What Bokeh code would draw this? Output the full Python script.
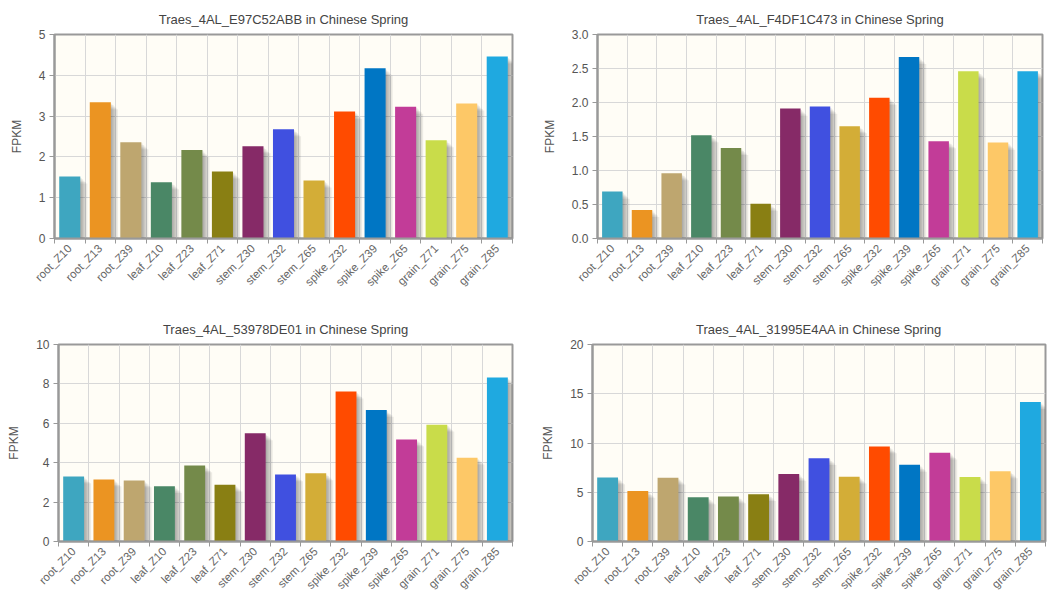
import math
from bokeh.plotting import figure
from bokeh.layouts import column, row
from bokeh.models import ColumnDataSource, FixedTicker, Range1d, NumeralTickFormatter
from bokeh.embed import file_html
from bokeh.resources import INLINE

categories = ["root_Z10", "root_Z13", "root_Z39", "leaf_Z10", "leaf_Z23", "leaf_Z71",
              "stem_Z30", "stem_Z32", "stem_Z65", "spike_Z32", "spike_Z39", "spike_Z65",
              "grain_Z71", "grain_Z75", "grain_Z85"]
colors = ["#3ea6c0", "#eb9422", "#bea66f", "#4a8766", "#748a4a", "#897f13",
          "#862a67", "#4050e0", "#d3ad37", "#ff4b00", "#0076c4", "#c23c98",
          "#c9dc4a", "#fdc867", "#1fa9e0"]

titles = ["Traes_4AL_E97C52ABB in Chinese Spring",
          "Traes_4AL_F4DF1C473 in Chinese Spring",
          "Traes_4AL_53978DE01 in Chinese Spring",
          "Traes_4AL_31995E4AA in Chinese Spring"]

fpkm_e97c52abb = [1.52, 3.34, 2.36, 1.38, 2.17, 1.64, 2.26, 2.68, 1.42, 3.11, 4.17, 3.23, 2.41, 3.31, 4.46]
fpkm_f4df1c473 = [0.69, 0.42, 0.96, 1.52, 1.33, 0.51, 1.91, 1.94, 1.65, 2.07, 2.67, 1.43, 2.46, 1.41, 2.46]
fpkm_53978de01 = [3.30, 3.15, 3.10, 2.81, 3.86, 2.88, 5.49, 3.40, 3.46, 7.61, 6.68, 5.18, 5.93, 4.25, 8.32]
fpkm_31995e4aa = [6.50, 5.13, 6.47, 4.48, 4.58, 4.80, 6.86, 8.46, 6.57, 9.64, 7.78, 9.02, 6.54, 7.12, 14.15]

y_max = [5, 3, 10, 20]
y_ticks = [[0, 1, 2, 3, 4, 5],
           [0, 0.5, 1.0, 1.5, 2.0, 2.5, 3.0],
           [0, 2, 4, 6, 8, 10],
           [0, 5, 10, 15, 20]]
y_formats = ["0", "0.0", "0", "0"]

# layout: width, height, left, right, top, bottom
layouts = [(530, 300, 54, 18, 34, 61),
           (529, 300, 67, 17, 34, 62),
           (530, 298, 58, 18, 42, 52),
           (529, 298, 62, 14, 44, 50)]

FONT = "Liberation Sans"


def make_panel(title, vals, ymax, yt, yfmt, lay):
    w, h, l, r, t, b = lay
    n = len(categories)
    fw = w - l - r
    fh = h - t - b
    xs = list(range(n))
    p = figure(width=w, height=h, x_range=Range1d(-0.5, n - 0.5), y_range=Range1d(0, ymax),
               output_backend="svg", toolbar_location=None, title=title,
               min_border_left=l, min_border_right=r, min_border_top=t, min_border_bottom=b)
    p.background_fill_color = "#fffdf6"
    p.border_fill_color = "white"
    p.outline_line_color = "#999999"
    p.outline_line_width = 2

    p.title.align = "center"
    p.title.text_font = FONT
    p.title.text_font_size = "13px"
    p.title.text_font_style = "normal"
    p.title.text_color = "#444444"
    p.title.standoff = 15

    # shadows
    px_x = fw / n
    px_y = fh / ymax
    for j in range(5):
        off = (j + 1) * 1.41
        src = ColumnDataSource(dict(x=[x + off / px_x for x in xs],
                                    top=[max(v - off / px_y, 0) for v in vals]))
        p.vbar(x="x", top="top", bottom=0, width=0.69, source=src,
               fill_color="black", fill_alpha=0.07, line_color=None)

    src = ColumnDataSource(dict(x=xs, top=vals, color=colors))
    p.vbar(x="x", top="top", bottom=0, width=0.69, source=src,
           fill_color="color", line_color=None)

    # x axis
    xax = p.xaxis[0]
    xax.ticker = FixedTicker(ticks=xs, minor_ticks=[x - 0.5 for x in range(n + 1)])
    xax.major_label_overrides = {x: c for x, c in zip(xs, categories)}
    xax.major_label_orientation = math.pi / 4
    xax.major_label_text_font = FONT
    xax.major_label_text_font_size = "11.5px"
    xax.major_label_text_color = "#666666"
    xax.major_label_standoff = 3
    xax.major_tick_out = 0
    xax.major_tick_in = 0
    xax.minor_tick_out = 5
    xax.minor_tick_in = 0
    xax.minor_tick_line_color = "#999999"
    xax.axis_line_color = "#999999"
    xax.axis_line_width = 2

    # y axis
    yax = p.yaxis[0]
    yax.ticker = FixedTicker(ticks=yt)
    yax.formatter = NumeralTickFormatter(format=yfmt)
    yax.axis_label = "FPKM"
    yax.axis_label_text_font = FONT
    yax.axis_label_text_font_size = "12px"
    yax.axis_label_text_font_style = "normal"
    yax.axis_label_text_color = "#555555"
    yax.axis_label_standoff = 12
    yax.major_label_text_font = FONT
    yax.major_label_text_font_size = "12px"
    yax.major_label_text_color = "#555555"
    yax.major_label_standoff = 4
    yax.major_tick_out = 5
    yax.major_tick_in = 0
    yax.minor_tick_out = 0
    yax.minor_tick_in = 0
    yax.major_tick_line_color = "#999999"
    yax.axis_line_color = "#999999"
    yax.axis_line_width = 2

    p.xgrid.grid_line_color = None
    p.xgrid.minor_grid_line_color = "#d8d8d8"
    p.ygrid.grid_line_color = "#d8d8d8"
    return p


series = [fpkm_e97c52abb, fpkm_f4df1c473, fpkm_53978de01, fpkm_31995e4aa]
panels = [make_panel(titles[i], series[i], y_max[i], y_ticks[i], y_formats[i], layouts[i])
          for i in range(4)]

layout = column(row(panels[0], panels[1]), row(panels[2], panels[3]))
open("out.html", "w").write(file_html(layout, INLINE))
